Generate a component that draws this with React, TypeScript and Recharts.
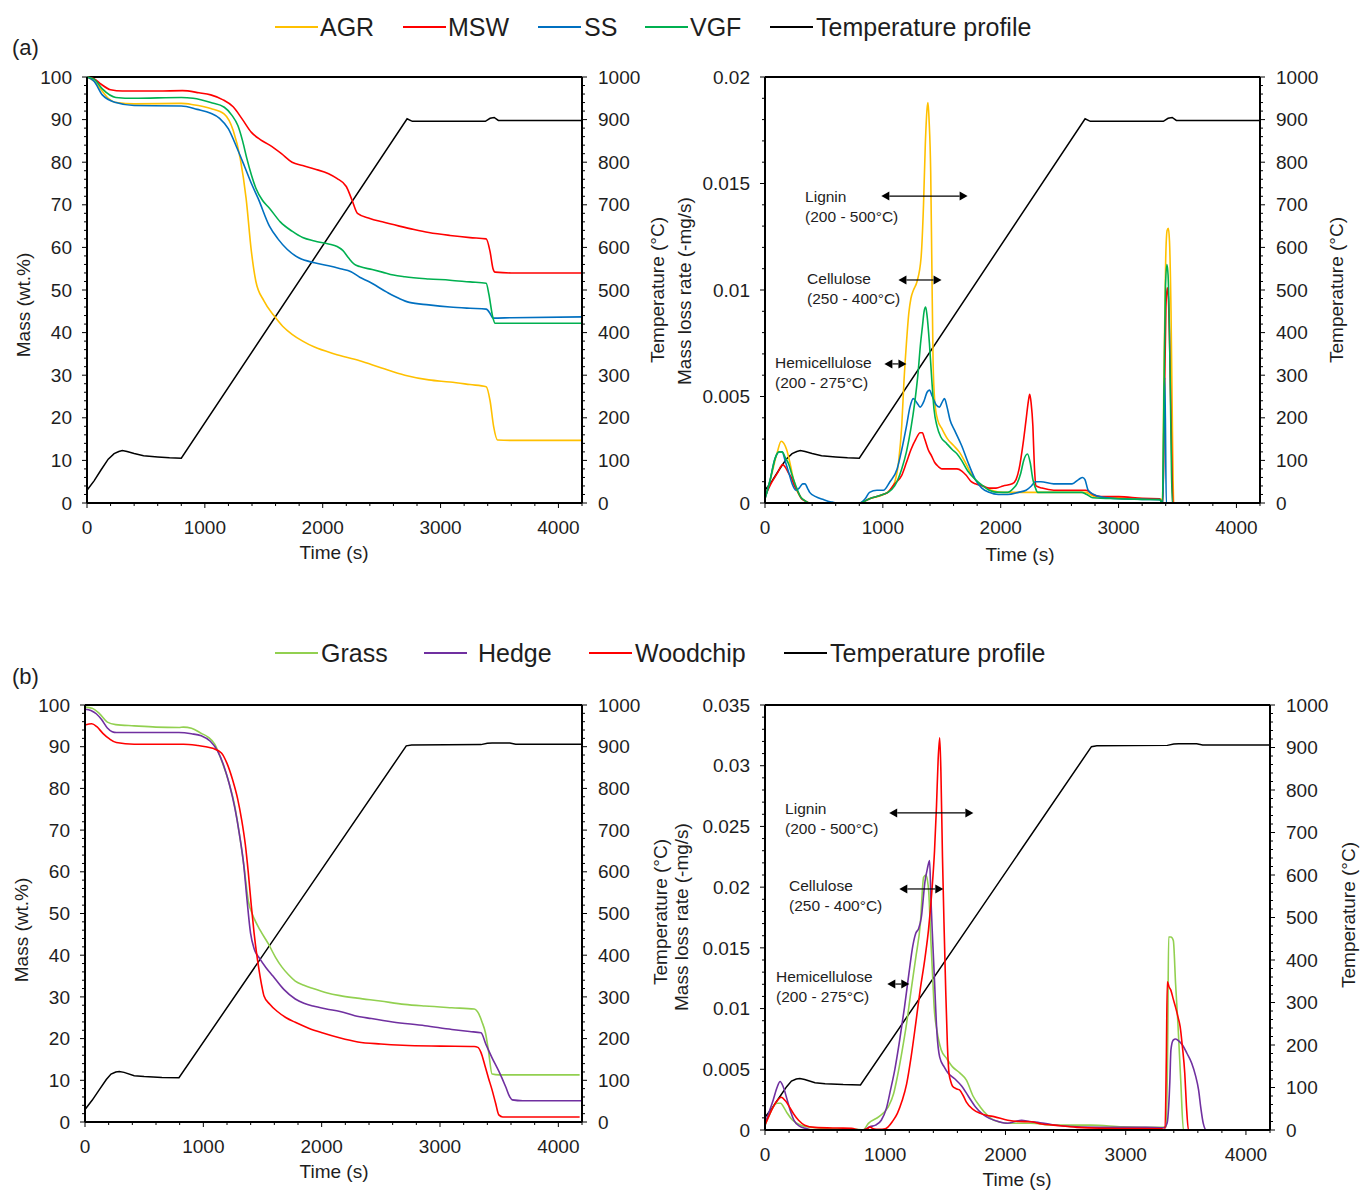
import React from 'react';
import { LineChart, Line, XAxis, YAxis, ReferenceLine, ReferenceDot } from 'recharts';

// ---------- data (time in s, mass in wt.%, rate in mg/s, temperature in °C) ----------

const seriesNamesA = ['AGR', 'MSW', 'SS', 'VGF'];
const seriesNamesB = ['Grass', 'Hedge', 'Woodchip'];
const tempName = 'Temperature profile';

const componentNames = ['Lignin', 'Cellulose', 'Hemicellulose'];
const componentRanges = ['(200 - 500°C)', '(250 - 400°C)', '(200 - 275°C)'];

const tempA = [
  [0, 30], [60, 52], [120, 78], [180, 103], [230, 116], [270, 121], [300, 123], [340, 121],
  [400, 116], [480, 111], [600, 108], [700, 106], [800, 105], [2716, 902], [2760, 896],
  [3380, 896], [3420, 903], [3455, 905], [3490, 898], [4200, 898],
];

const tempB = [
  [0, 30], [60, 52], [120, 77], [180, 102], [220, 115], [260, 120], [290, 121], [330, 119],
  [416, 111], [500, 109], [650, 107], [794, 106], [2715, 902], [2760, 904], [3346, 905],
  [3400, 908], [3440, 909], [3590, 909], [3640, 906], [4200, 906],
];

const agrMass = [
  [0, 100], [60, 99], [120, 97], [180, 95], [250, 94], [400, 93.7], [800, 93.8], [900, 93.5],
  [1050, 92.6], [1165, 91.3], [1240, 87.5], [1300, 80.9], [1350, 71.5], [1395, 59], [1433, 52],
  [1500, 47.5], [1586, 44], [1660, 41.5], [1740, 39.6], [1830, 38], [1930, 36.6], [2100, 35],
  [2314, 33.4], [2500, 31.7], [2697, 30], [2900, 28.9], [3080, 28.4], [3250, 27.8], [3387, 27.3],
  [3420, 24], [3450, 18], [3483, 14.8], [3600, 14.7], [4200, 14.7],
];

const mswMass = [
  [0, 100], [60, 99.6], [120, 98.3], [200, 97], [300, 96.7], [600, 96.7], [810, 96.8], [950, 96.3],
  [1050, 95.8], [1150, 94.7], [1240, 93], [1320, 90], [1395, 87], [1470, 85.3], [1550, 84],
  [1650, 82], [1740, 80], [1830, 79.2], [1930, 78.4], [2050, 77.3], [2120, 76.2], [2200, 74.3],
  [2250, 71], [2295, 68], [2400, 66.8], [2505, 66], [2650, 65], [2775, 64.2], [2900, 63.5],
  [3080, 62.8], [3250, 62.3], [3387, 62], [3420, 59], [3445, 55], [3463, 54.2], [3600, 54], [4200, 54],
];

const ssMass = [
  [0, 100], [60, 99], [130, 95.8], [245, 94], [400, 93.3], [800, 93.2], [935, 92.4], [1050, 91.5],
  [1125, 90.3], [1200, 87.8], [1270, 83.5], [1337, 79], [1395, 75], [1452, 71.5], [1548, 65],
  [1620, 62], [1700, 59.5], [1800, 57.5], [1930, 56.4], [2050, 55.7], [2150, 55], [2240, 54.3],
  [2314, 53], [2390, 52], [2544, 49.5], [2650, 48], [2735, 47.1], [2900, 46.5], [3080, 46],
  [3250, 45.7], [3387, 45.5], [3420, 44.5], [3444, 43.4], [3600, 43.5], [4200, 43.7],
];

const vgfMass = [
  [0, 100], [60, 99.5], [130, 97.2], [245, 95.2], [400, 95], [800, 95.2], [900, 95], [1050, 94],
  [1165, 92.9], [1230, 91], [1280, 88.6], [1320, 85], [1356, 80.9], [1395, 77], [1433, 73.9],
  [1490, 71], [1548, 69.2], [1640, 66], [1740, 63.8], [1830, 62.3], [1930, 61.5], [2050, 60.8],
  [2122, 60.2], [2170, 59.3], [2220, 57.5], [2270, 56], [2314, 55.5], [2420, 54.8], [2505, 54.2],
  [2600, 53.5], [2697, 53.1], [2900, 52.6], [3080, 52.3], [3250, 51.9], [3387, 51.6], [3410, 49],
  [3440, 44], [3463, 42.2], [3600, 42.2], [4200, 42.2],
];

const agrRate = [
  [0, 0.0002], [50, 0.0012], [105, 0.0024], [137, 0.0029], [160, 0.0028], [184, 0.0025],
  [215, 0.0018], [242, 0.0011], [270, 0.0006], [300, 0.0003], [340, 0.0001], [380, 0], [800, 0],
  [887, 0.0002], [1004, 0.0004], [1060, 0.0006], [1102, 0.001], [1135, 0.002], [1160, 0.0036],
  [1180, 0.0058], [1200, 0.0075], [1220, 0.0089], [1238, 0.0096], [1260, 0.01], [1290, 0.0104],
  [1324, 0.0115], [1345, 0.014], [1360, 0.0168], [1375, 0.0185], [1383, 0.0188], [1392, 0.018],
  [1406, 0.0155], [1416, 0.011], [1426, 0.0067], [1440, 0.0048], [1465, 0.0039], [1500, 0.0035],
  [1550, 0.003], [1600, 0.0027], [1648, 0.0024], [1700, 0.0019], [1746, 0.0014], [1800, 0.001],
  [1844, 0.0008], [1920, 0.0006], [2020, 0.0005], [2300, 0.0005], [2450, 0.0005], [2723, 0.0005],
  [2760, 0.0004], [2800, 0.0003], [3000, 0.00025], [3200, 0.0002], [3360, 0.00018], [3372, 0],
  [3385, 0.006], [3400, 0.0115], [3412, 0.0128], [3422, 0.0129], [3432, 0.0123], [3445, 0.009],
  [3458, 0.003], [3468, 0], [4200, 0],
];

const mswRate = [
  [0, 0.0003], [50, 0.0009], [105, 0.0014], [150, 0.0018], [170, 0.0017], [200, 0.0014],
  [223, 0.0012], [250, 0.0008], [281, 0.0005], [310, 0.0002], [340, 0.0001], [380, 0], [800, 0],
  [887, 0.0002], [1000, 0.0004], [1043, 0.0005], [1100, 0.0009], [1160, 0.0013], [1200, 0.0019],
  [1238, 0.0025], [1280, 0.003], [1316, 0.0033], [1335, 0.0033], [1355, 0.003], [1385, 0.0025],
  [1414, 0.0022], [1440, 0.0019], [1473, 0.0017], [1500, 0.0016], [1550, 0.0016], [1629, 0.0016],
  [1670, 0.0015], [1707, 0.0013], [1750, 0.001], [1785, 0.0009], [1850, 0.0008], [1902, 0.0007],
  [1960, 0.0007], [2020, 0.0008], [2098, 0.0009], [2130, 0.0011], [2156, 0.0016], [2190, 0.0028],
  [2215, 0.0039], [2235, 0.0048], [2246, 0.0051], [2258, 0.0047], [2273, 0.0036], [2285, 0.0018],
  [2300, 0.0008], [2350, 0.0007], [2450, 0.0006], [2600, 0.0006], [2723, 0.0006], [2781, 0.0004],
  [2850, 0.0003], [3000, 0.0003], [3200, 0.00022], [3348, 0.0002], [3376, 0], [3390, 0.005],
  [3402, 0.0092], [3413, 0.0101], [3422, 0.0097], [3435, 0.007], [3450, 0.0025], [3462, 0], [4200, 0],
];

const ssRate = [
  [0, 0.0002], [40, 0.001], [86, 0.0021], [120, 0.0024], [145, 0.0024], [175, 0.0019],
  [203, 0.0014], [230, 0.0009], [262, 0.0006], [290, 0.0007], [320, 0.0009], [340, 0.0009],
  [360, 0.0007], [379, 0.0005], [430, 0.0003], [496, 0.00016], [560, 0.00005], [613, 0], [800, 0],
  [850, 0.0002], [887, 0.0005], [950, 0.0006], [1004, 0.0006], [1060, 0.001], [1121, 0.0016],
  [1160, 0.0025], [1200, 0.0036], [1230, 0.0045], [1258, 0.0049], [1290, 0.0047], [1316, 0.0045],
  [1350, 0.0048], [1375, 0.0052], [1395, 0.0053], [1420, 0.005], [1453, 0.0046], [1480, 0.0045],
  [1500, 0.0047], [1523, 0.0049], [1545, 0.0045], [1570, 0.0039], [1610, 0.0034], [1668, 0.0027],
  [1730, 0.0018], [1785, 0.0011], [1840, 0.0007], [1902, 0.0005], [1980, 0.0004], [2059, 0.0004],
  [2150, 0.0005], [2215, 0.0006], [2260, 0.0008], [2293, 0.001], [2340, 0.001], [2450, 0.0009],
  [2550, 0.0009], [2605, 0.0009], [2660, 0.0011], [2695, 0.0012], [2715, 0.0011], [2742, 0.0006],
  [2790, 0.0004], [2840, 0.0003], [3000, 0.0002], [3200, 0.00017], [3348, 0.00016], [3376, 0],
  [3385, 0.004], [3391, 0.0059], [3397, 0.004], [3405, 0], [4200, 0],
];

const vgfRate = [
  [0, 0.0002], [40, 0.001], [86, 0.0021], [120, 0.0024], [145, 0.0024], [175, 0.0021],
  [203, 0.0018], [230, 0.0013], [262, 0.0008], [300, 0.0003], [340, 0.0001], [380, 0], [800, 0],
  [887, 0.0002], [1000, 0.0004], [1043, 0.0005], [1100, 0.0008], [1160, 0.0016], [1200, 0.0024],
  [1238, 0.0035], [1270, 0.0047], [1297, 0.006], [1320, 0.0075], [1336, 0.0083], [1350, 0.009],
  [1363, 0.0092], [1375, 0.0088], [1395, 0.0075], [1415, 0.0058], [1434, 0.0044], [1460, 0.0036],
  [1492, 0.0031], [1540, 0.0028], [1590, 0.0025], [1630, 0.0023], [1668, 0.002], [1720, 0.0015],
  [1785, 0.0011], [1850, 0.0008], [1902, 0.0006], [1980, 0.0005], [2059, 0.0005], [2110, 0.0007],
  [2137, 0.0009], [2170, 0.0014], [2195, 0.002], [2227, 0.0023], [2250, 0.0019], [2273, 0.0011],
  [2295, 0.0007], [2312, 0.0005], [2500, 0.0005], [2684, 0.0005], [2730, 0.0004], [2781, 0.00025],
  [3000, 0.0002], [3200, 0.00017], [3348, 0.00016], [3372, 0], [3385, 0.005], [3398, 0.0102],
  [3410, 0.0112], [3420, 0.0107], [3432, 0.008], [3445, 0.003], [3455, 0], [4200, 0],
];

const grassMass = [
  [0, 99.5], [60, 99.2], [120, 98], [189, 95.9], [260, 95.3], [416, 95], [600, 94.7], [794, 94.6],
  [832, 94.7], [900, 94.4], [983, 93.2], [1040, 92.3], [1096, 90.6], [1150, 87], [1210, 82],
  [1260, 76.5], [1304, 69.2], [1345, 61], [1380, 53], [1418, 49.6], [1480, 46], [1550, 42.7],
  [1610, 39.5], [1663, 37.2], [1720, 35.3], [1777, 33.8], [1850, 32.8], [1928, 32], [2040, 31],
  [2155, 30.3], [2300, 29.7], [2495, 29], [2700, 28.2], [2873, 27.8], [3100, 27.4], [3289, 27.1],
  [3327, 26], [3355, 24], [3384, 21.4], [3410, 17], [3440, 11.5], [3500, 11.3], [4180, 11.3],
];

const hedgeMass = [
  [0, 99], [50, 98.7], [95, 97.9], [140, 96.5], [189, 94.5], [230, 93.6], [265, 93.4], [500, 93.4],
  [794, 93.4], [900, 93.1], [983, 92.6], [1059, 91.3], [1120, 89], [1172, 85.5], [1220, 81],
  [1267, 75.2], [1305, 69], [1342, 61.5], [1370, 53], [1399, 45.3], [1430, 41.5], [1474, 39.3],
  [1530, 37], [1588, 35], [1680, 31.8], [1777, 29.5], [1850, 28.5], [1928, 27.8], [2040, 27.1],
  [2155, 26.5], [2280, 25.5], [2420, 24.8], [2600, 24], [2873, 23.1], [3100, 22.2], [3250, 21.7],
  [3346, 21.4], [3390, 18.5], [3440, 15.4], [3500, 12], [3554, 8.5], [3590, 6], [3611, 5.3],
  [3700, 5.1], [4200, 5.1],
];

const woodMass = [
  [0, 95.2], [57, 95.5], [100, 94.8], [151, 93.2], [210, 91.8], [265, 91], [416, 90.6], [832, 90.6],
  [950, 90.3], [1021, 90], [1080, 89.6], [1153, 88.5], [1200, 86], [1248, 82], [1290, 77.5],
  [1323, 72.6], [1355, 66.5], [1380, 59.8], [1405, 52], [1429, 45.3], [1452, 40], [1474, 35.9],
  [1495, 32.5], [1512, 30.3], [1560, 28.3], [1626, 26.5], [1700, 25], [1777, 23.9], [1890, 22.5],
  [2004, 21.4], [2150, 20.2], [2306, 19.2], [2500, 18.7], [2684, 18.4], [3000, 18.2], [3289, 18.1],
  [3320, 17.9], [3346, 16.7], [3380, 13.5], [3410, 10.5], [3440, 7.7], [3470, 4.5], [3497, 1.7],
  [3530, 1.2], [4180, 1.2],
];

const grassRate = [
  [0, 0.0004], [35, 0.0012], [69, 0.0019], [100, 0.0022], [130, 0.0022], [160, 0.0018],
  [184, 0.0014], [230, 0.0008], [298, 0.0004], [400, 0.0002], [489, 0.00014], [757, 0.00005],
  [815, 0], [860, 0.00055], [948, 0.0011], [1025, 0.0019], [1070, 0.003], [1101, 0.0044],
  [1140, 0.0065], [1178, 0.0088], [1215, 0.0115], [1254, 0.0142], [1292, 0.017], [1319, 0.0208],
  [1338, 0.021], [1352, 0.0205], [1361, 0.0197], [1380, 0.0155], [1395, 0.0125], [1407, 0.0101],
  [1430, 0.0082], [1465, 0.0066], [1510, 0.0059], [1560, 0.0052], [1620, 0.0047], [1675, 0.0041],
  [1730, 0.0028], [1790, 0.0019], [1850, 0.0012], [1904, 0.0008], [2019, 0.00055], [2210, 0.00055],
  [2401, 0.0004], [2707, 0.0004], [2975, 0.00027], [3281, 0.00022], [3338, 0.00027], [3350, 0.008],
  [3357, 0.0159], [3376, 0.0159], [3396, 0.0156], [3415, 0.012], [3434, 0.0088], [3458, 0.004],
  [3480, 0], [4200, 0],
];

const hedgeRate = [
  [0, 0.0005], [35, 0.0015], [69, 0.0025], [100, 0.0035], [126, 0.004], [150, 0.0036],
  [184, 0.0025], [210, 0.0016], [241, 0.0008], [290, 0.0003], [337, 0.00014], [400, 0], [820, 0],
  [872, 0.00027], [920, 0.0004], [967, 0.0008], [1010, 0.0018], [1044, 0.0033], [1080, 0.005],
  [1120, 0.0074], [1160, 0.0101], [1197, 0.0129], [1230, 0.0152], [1254, 0.0162], [1278, 0.0166],
  [1300, 0.0175], [1331, 0.0205], [1350, 0.0215], [1369, 0.0222], [1380, 0.019], [1395, 0.0155],
  [1407, 0.0129], [1430, 0.008], [1453, 0.006], [1490, 0.0052], [1522, 0.0047], [1580, 0.0042],
  [1637, 0.0036], [1690, 0.0028], [1751, 0.0019], [1810, 0.0013], [1866, 0.00096], [1940, 0.0007],
  [2019, 0.00055], [2080, 0.0007], [2134, 0.0008], [2200, 0.0007], [2287, 0.0006], [2380, 0.00045],
  [2478, 0.00033], [2784, 0.00022], [3166, 0.00022], [3319, 0.00019], [3345, 0.0006], [3357, 0.0019],
  [3367, 0.004], [3376, 0.0066], [3395, 0.0074], [3415, 0.0075], [3445, 0.0073], [3472, 0.007],
  [3510, 0.0063], [3549, 0.0055], [3580, 0.0045], [3606, 0.0033], [3625, 0.0018], [3645, 0.00055],
  [3671, 0], [4200, 0],
];

const woodRate = [
  [0, 0.0004], [35, 0.0012], [69, 0.0019], [100, 0.0024], [134, 0.0027], [170, 0.0024],
  [203, 0.0019], [240, 0.0013], [279, 0.0008], [330, 0.0004], [413, 0.00022], [600, 0.00016],
  [719, 0.00014], [790, 0], [850, 0.0001], [872, 0.00025], [900, 0.0001], [948, 0.00005],
  [1000, 0.0001], [1025, 0.00027], [1060, 0.0007], [1101, 0.00137], [1140, 0.0024], [1178, 0.0038],
  [1215, 0.006], [1254, 0.0088], [1290, 0.0115], [1331, 0.0142], [1360, 0.0165], [1388, 0.0197],
  [1410, 0.023], [1426, 0.0266], [1440, 0.0305], [1453, 0.0323], [1463, 0.0295], [1476, 0.0225],
  [1490, 0.0165], [1503, 0.0115], [1517, 0.007], [1530, 0.0047], [1545, 0.004], [1560, 0.0036],
  [1590, 0.0034], [1618, 0.0033], [1650, 0.0028], [1675, 0.0023], [1730, 0.0017], [1790, 0.00137],
  [1850, 0.0012], [1904, 0.0011], [2019, 0.0008], [2110, 0.0007], [2210, 0.00068], [2300, 0.0005],
  [2401, 0.0004], [2593, 0.00022], [2784, 0.00014], [3000, 0.00012], [3300, 0.0001], [3327, 0],
  [3338, 0.006], [3346, 0.0122], [3360, 0.0118], [3376, 0.0115], [3395, 0.0108], [3415, 0.0101],
  [3435, 0.0093], [3453, 0.0085], [3472, 0.0068], [3491, 0.0047], [3505, 0.002], [3522, 0], [4200, 0],
];

// ---------- styles / layout ----------

const COLORS: Record<string, string> = {
  AGR: '#FFC000',
  MSW: '#FF0000',
  SS: '#0070C0',
  VGF: '#00B050',
  Grass: '#92D050',
  Hedge: '#7030A0',
  Woodchip: '#FF0000',
  [tempName]: '#000000',
};

const FONT = '"Liberation Sans", Arial, sans-serif';
const INK = '#1e1e1e';

const range = (a: number, b: number, s: number) =>
  Array.from({ length: Math.round((b - a) / s) + 1 }, (_, i) => a + i * s);

const timeTicks = range(0, 4200, 200);
const massTicks = range(0, 100, 2);
const tempTicks = range(0, 1000, 20);
const rateTicksA = range(0, 20, 1).map((k) => k / 1000);
const rateTicksB = range(0, 35, 1).map((k) => k / 1000);

const toPts = (arr: number[][]) => arr.map(([t, v]) => ({ t, v }));

function AxisTick(props: any) {
  const { x, y, payload, side, step } = props;
  const v = payload.value;
  const major = Math.abs(v / step - Math.round(v / step)) < 1e-6;
  const len = major ? 5 : 3;
  const label = String(v);
  const txt = { fontFamily: FONT, fontSize: 19, fill: INK };
  if (side === 'left') {
    return (
      <g>
        <line x1={x} y1={y} x2={x - len} y2={y} stroke="#000" strokeWidth={1} />
        {major && (
          <text {...txt} x={x - 15} y={y} dy="0.35em" textAnchor="end">{label}</text>
        )}
      </g>
    );
  }
  if (side === 'right') {
    return (
      <g>
        <line x1={x} y1={y} x2={x + len} y2={y} stroke="#000" strokeWidth={1} />
        {major && (
          <text {...txt} x={x + 16} y={y} dy="0.35em" textAnchor="start">{label}</text>
        )}
      </g>
    );
  }
  return (
    <g>
      <line x1={x} y1={y} x2={x} y2={y + len} stroke="#000" strokeWidth={1} />
      {major && (
        <text {...txt} x={x} y={y + 24} dy="0.35em" textAnchor="middle">{label}</text>
      )}
    </g>
  );
}

function ArrowShape(props: any) {
  const { x1, y1, x2 } = props;
  const h = 8;
  const w = 4.5;
  return (
    <g>
      <line x1={x1 + h} y1={y1} x2={x2 - h} y2={y1} stroke="#000" strokeWidth={1.2} />
      <polygon points={`${x1},${y1} ${x1 + h},${y1 - w} ${x1 + h},${y1 + w}`} fill="#000" />
      <polygon points={`${x2},${y1} ${x2 - h},${y1 - w} ${x2 - h},${y1 + w}`} fill="#000" />
    </g>
  );
}

type Note = { tx: number; ty: number; a1: number; a2: number; ay: number };

// positions of the Lignin / Cellulose / Hemicellulose notes, in data units
const notesA: Note[] = [
  { tx: 340, ty: 0.01437, a1: 987, a2: 1719, ay: 0.01441 },
  { tx: 357, ty: 0.01052, a1: 1132, a2: 1498, ay: 0.01047 },
  { tx: 85, ty: 0.00657, a1: 1013, a2: 1200, ay: 0.00653 },
];
const notesB: Note[] = [
  { tx: 167, ty: 0.02644, a1: 1033, a2: 1733, ay: 0.02611 },
  { tx: 200, ty: 0.02009, a1: 1117, a2: 1483, ay: 0.01985 },
  { tx: 92, ty: 0.0126, a1: 1017, a2: 1200, ay: 0.01202 },
];

type Box = { left: number; top: number; right: number; bottom: number };

function Panel({
  box,
  leftMax,
  leftTicks,
  leftStep,
  series,
  temp,
  notes,
}: {
  box: Box;
  leftMax: number;
  leftTicks: number[];
  leftStep: number;
  series: { name: string; points: number[][] }[];
  temp: number[][];
  notes?: Note[];
}) {
  const pw = box.right - box.left;
  const ph = box.bottom - box.top;
  return (
    <div style={{ position: 'absolute', left: box.left - 80, top: box.top - 20 }}>
      <LineChart width={pw + 160} height={ph + 80} margin={{ top: 20, right: 20, bottom: 20, left: 20 }}>
        <XAxis
          type="number"
          dataKey="t"
          domain={[0, 4200]}
          ticks={timeTicks}
          interval={0}
          height={40}
          tickSize={0}
          tickMargin={0}
          tickLine={false}
          axisLine={{ stroke: '#000', strokeWidth: 2 }}
          tick={(p: any) => <AxisTick {...p} side="bottom" step={1000} />}
        />
        <YAxis
          yAxisId="left"
          type="number"
          domain={[0, leftMax]}
          ticks={leftTicks}
          interval={0}
          width={60}
          tickSize={0}
          tickMargin={0}
          tickLine={false}
          axisLine={{ stroke: '#000', strokeWidth: 2 }}
          tick={(p: any) => <AxisTick {...p} side="left" step={leftStep} />}
        />
        <YAxis
          yAxisId="right"
          orientation="right"
          type="number"
          domain={[0, 1000]}
          ticks={tempTicks}
          interval={0}
          width={60}
          tickSize={0}
          tickMargin={0}
          tickLine={false}
          axisLine={{ stroke: '#000', strokeWidth: 2 }}
          tick={(p: any) => <AxisTick {...p} side="right" step={100} />}
        />
        <ReferenceLine yAxisId="left" y={leftMax} stroke="#000" strokeWidth={2} />
        <Line
          yAxisId="right"
          data={toPts(temp)}
          dataKey="v"
          name={tempName}
          type="linear"
          stroke={COLORS[tempName]}
          strokeWidth={1.5}
          dot={false}
          activeDot={false}
          isAnimationActive={false}
        />
        {series.map((s) => (
          <Line
            key={s.name}
            yAxisId="left"
            data={toPts(s.points)}
            dataKey="v"
            name={s.name}
            type="monotone"
            stroke={COLORS[s.name]}
            strokeWidth={1.6}
            dot={false}
            activeDot={false}
            isAnimationActive={false}
          />
        ))}
        {notes &&
          notes.map((n, i) => (
            <ReferenceLine
              key={`a${i}`}
              yAxisId="left"
              segment={[{ x: n.a1, y: n.ay }, { x: n.a2, y: n.ay }]}
              shape={(p: any) => <ArrowShape {...p} />}
            />
          ))}
        {notes &&
          notes.map((n, i) => (
            <ReferenceDot
              key={`n${i}`}
              yAxisId="left"
              x={n.tx}
              y={n.ty}
              r={0}
              shape={(p: any) => (
                <g>
                  <text x={p.cx} y={p.cy} dy="0.35em" fontFamily={FONT} fontSize={15.5} fill={INK}>
                    {componentNames[i]}
                  </text>
                  <text x={p.cx} y={p.cy + 20} dy="0.35em" fontFamily={FONT} fontSize={15.5} fill={INK}>
                    {componentRanges[i]}
                  </text>
                </g>
              )}
            />
          ))}
      </LineChart>
    </div>
  );
}

function Legend({ top, names, lineX, textX }: { top: number; names: string[]; lineX: number[]; textX: number[] }) {
  return (
    <>
      {names.map((n, i) => (
        <React.Fragment key={n}>
          <div
            style={{
              position: 'absolute',
              left: lineX[i],
              top: top - 1,
              width: 43,
              height: 2,
              background: COLORS[n],
            }}
          />
          <div
            style={{
              position: 'absolute',
              left: textX[i],
              top: top - 15,
              fontSize: 25,
              lineHeight: '30px',
              fontFamily: FONT,
              color: INK,
              whiteSpace: 'nowrap',
            }}
          >
            {n}
          </div>
        </React.Fragment>
      ))}
    </>
  );
}

function Title({ x, y, text, rotate }: { x: number; y: number; text: string; rotate?: boolean }) {
  return (
    <div
      style={{
        position: 'absolute',
        left: x,
        top: y,
        transform: `translate(-50%, -50%)${rotate ? ' rotate(-90deg)' : ''}`,
        fontFamily: FONT,
        fontSize: 19,
        color: INK,
        whiteSpace: 'nowrap',
        lineHeight: '22px',
      }}
    >
      {text}
    </div>
  );
}

export default function App() {
  const massA = [
    { name: 'AGR', points: agrMass },
    { name: 'MSW', points: mswMass },
    { name: 'SS', points: ssMass },
    { name: 'VGF', points: vgfMass },
  ];
  const rateA = [
    { name: 'AGR', points: agrRate },
    { name: 'MSW', points: mswRate },
    { name: 'SS', points: ssRate },
    { name: 'VGF', points: vgfRate },
  ];
  const massB = [
    { name: 'Grass', points: grassMass },
    { name: 'Hedge', points: hedgeMass },
    { name: 'Woodchip', points: woodMass },
  ];
  const rateB = [
    { name: 'Grass', points: grassRate },
    { name: 'Hedge', points: hedgeRate },
    { name: 'Woodchip', points: woodRate },
  ];

  return (
    <div
      style={{
        position: 'absolute',
        left: 0,
        top: 0,
        width: 1362,
        height: 1191,
        background: '#fff',
        fontFamily: FONT,
        overflow: 'hidden',
      }}
    >
      <Legend
        top={27}
        names={[...seriesNamesA, tempName]}
        lineX={[275, 403, 538, 645, 770]}
        textX={[320, 448, 584, 690, 816]}
      />
      <Legend
        top={653}
        names={[...seriesNamesB, tempName]}
        lineX={[275, 424, 589, 784]}
        textX={[321, 478, 635, 830]}
      />
      <div style={{ position: 'absolute', left: 12, top: 35, fontSize: 22, fontFamily: FONT, color: INK }}>(a)</div>
      <div style={{ position: 'absolute', left: 12, top: 664, fontSize: 22, fontFamily: FONT, color: INK }}>(b)</div>

      <Panel
        box={{ left: 87, top: 77, right: 582, bottom: 503 }}
        leftMax={100}
        leftTicks={massTicks}
        leftStep={10}
        series={massA}
        temp={tempA}
      />
      <Panel
        box={{ left: 765, top: 77, right: 1260, bottom: 503 }}
        leftMax={0.02}
        leftTicks={rateTicksA}
        leftStep={0.005}
        series={rateA}
        temp={tempA}
        notes={notesA}
      />
      <Panel
        box={{ left: 85, top: 705, right: 582, bottom: 1122 }}
        leftMax={100}
        leftTicks={massTicks}
        leftStep={10}
        series={massB}
        temp={tempB}
      />
      <Panel
        box={{ left: 765, top: 705, right: 1270, bottom: 1130 }}
        leftMax={0.035}
        leftTicks={rateTicksB}
        leftStep={0.005}
        series={rateB}
        temp={tempB}
        notes={notesB}
      />

      <Title x={24} y={305} text="Mass (wt.%)" rotate />
      <Title x={22} y={930} text="Mass (wt.%)" rotate />
      <Title x={658} y={290} text="Temperature (°C)" rotate />
      <Title x={685} y={291} text="Mass loss rate (-mg/s)" rotate />
      <Title x={661} y={912} text="Temperature (°C)" rotate />
      <Title x={682} y={917} text="Mass loss rate (-mg/s)" rotate />
      <Title x={1337} y={290} text="Temperature (°C)" rotate />
      <Title x={1349} y={915} text="Temperature (°C)" rotate />
      <Title x={334} y={553} text="Time (s)" />
      <Title x={1020} y={555} text="Time (s)" />
      <Title x={334} y={1172} text="Time (s)" />
      <Title x={1017} y={1180} text="Time (s)" />
    </div>
  );
}
